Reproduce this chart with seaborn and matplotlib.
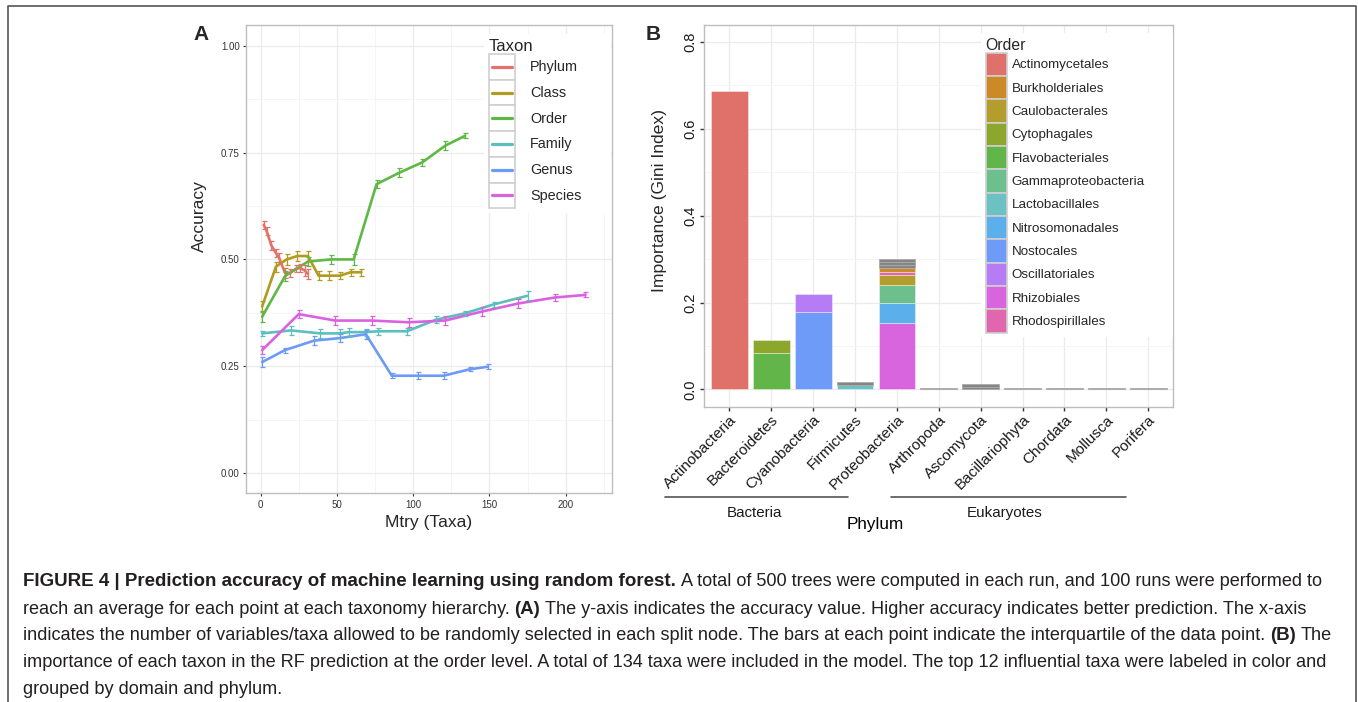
import numpy as np
import pandas as pd
import seaborn as sns
import matplotlib
matplotlib.use("Agg")
import matplotlib.pyplot as plt
import matplotlib.transforms as mtransforms
from matplotlib.lines import Line2D
from matplotlib.patches import Rectangle
from matplotlib.legend_handler import HandlerBase
from matplotlib.ticker import MultipleLocator

# ---- panel A data: accuracy vs mtry per taxonomic level
taxa = ["Phylum", "Class", "Order", "Family", "Genus", "Species"]
taxa_colors = ["#E2736B", "#B19B1E", "#5DB844", "#5CBFBE", "#6D9AF6", "#D962E0"]

phylum_mtry = [2, 4, 7, 10, 12, 16, 19, 23, 26, 29, 31]
phylum_acc = [0.581, 0.566, 0.533, 0.515, 0.505, 0.468, 0.468, 0.478, 0.480, 0.474, 0.466]
phylum_err = [0.010, 0.010, 0.010, 0.010, 0.010, 0.012, 0.010, 0.008, 0.010, 0.012, 0.012]

class_mtry = [1, 10, 17, 24, 31, 38, 45, 52, 59, 66]
class_acc = [0.390, 0.483, 0.500, 0.508, 0.508, 0.462, 0.462, 0.462, 0.470, 0.470]
class_err = [0.012, 0.012, 0.012, 0.012, 0.012, 0.010, 0.010, 0.008, 0.008, 0.008]

order_mtry = [1, 16, 31, 46, 61, 76, 91, 106, 121, 134]
order_acc = [0.366, 0.461, 0.495, 0.500, 0.500, 0.676, 0.703, 0.727, 0.766, 0.789]
order_err = [0.013, 0.012, 0.010, 0.010, 0.012, 0.010, 0.010, 0.008, 0.010, 0.006]

family_mtry = [1, 20, 39, 52, 58, 69, 77, 96, 115, 134, 153, 175]
family_acc = [0.327, 0.334, 0.327, 0.327, 0.330, 0.330, 0.332, 0.332, 0.359, 0.374, 0.395, 0.415]
family_err = [0.006, 0.010, 0.010, 0.010, 0.010, 0.008, 0.008, 0.008, 0.008, 0.006, 0.006, 0.010]

genus_mtry = [1, 16, 35, 52, 69, 86, 103, 120, 137, 149]
genus_acc = [0.260, 0.288, 0.310, 0.316, 0.325, 0.228, 0.228, 0.228, 0.243, 0.249]
genus_err = [0.012, 0.006, 0.010, 0.010, 0.010, 0.006, 0.008, 0.008, 0.005, 0.006]

species_mtry = [1, 25, 49, 73, 97, 121, 145, 169, 193, 213]
species_acc = [0.288, 0.372, 0.357, 0.357, 0.353, 0.357, 0.378, 0.397, 0.411, 0.417]
species_err = [0.010, 0.010, 0.010, 0.010, 0.010, 0.010, 0.010, 0.010, 0.008, 0.006]

# ---- panel B data: importance stacked by order within phylum
phyla = ["Actinobacteria", "Bacteroidetes", "Cyanobacteria", "Firmicutes", "Proteobacteria",
         "Arthropoda", "Ascomycota", "Bacillariophyta", "Chordata", "Mollusca", "Porifera"]
orders = ["Actinomycetales", "Burkholderiales", "Caulobacterales", "Cytophagales",
          "Flavobacteriales", "Gammaproteobacteria", "Lactobacillales", "Nitrosomonadales",
          "Nostocales", "Oscillatoriales", "Rhizobiales", "Rhodospirillales"]
order_colors = ["#E0716A", "#CC8A26", "#B39D2D", "#8CA72B", "#62B548", "#6DC08E",
                "#6CC1C3", "#5BAFEA", "#6F9BF8", "#B57CF5", "#D865DE", "#E067AD"]
other_color = "#858585"

seg_phylum = ["Actinobacteria", "Bacteroidetes", "Bacteroidetes", "Cyanobacteria", "Cyanobacteria",
              "Firmicutes", "Firmicutes",
              "Proteobacteria", "Proteobacteria", "Proteobacteria", "Proteobacteria", "Proteobacteria",
              "Proteobacteria", "Proteobacteria", "Proteobacteria", "Proteobacteria",
              "Arthropoda", "Ascomycota", "Ascomycota", "Bacillariophyta", "Chordata", "Mollusca", "Porifera"]
seg_order = ["Actinomycetales", "Flavobacteriales", "Cytophagales", "Nostocales", "Oscillatoriales",
             "Lactobacillales", "Other",
             "Rhizobiales", "Nitrosomonadales", "Gammaproteobacteria", "Caulobacterales", "Rhodospirillales",
             "Burkholderiales", "Other", "Other", "Other",
             "Other", "Other", "Other", "Other", "Other", "Other", "Other"]
seg_value = [0.687, 0.083, 0.031, 0.178, 0.041,
             0.010, 0.008,
             0.152, 0.046, 0.042, 0.023, 0.008,
             0.008, 0.007, 0.007, 0.007,
             0.002, 0.006, 0.006, 0.002, 0.002, 0.004, 0.003]

caption_lines = [
    [("FIGURE 4 | Prediction accuracy of machine learning using random forest.", True),
     ("A total of 500 trees were computed in each run, and 100 runs were performed to", False)],
    [("reach an average for each point at each taxonomy hierarchy.", False), ("(A)", True),
     ("The y-axis indicates the accuracy value. Higher accuracy indicates better prediction. The x-axis", False)],
    [("indicates the number of variables/taxa allowed to be randomly selected in each split node. "
      "The bars at each point indicate the interquartile of the data point.", False), ("(B)", True), ("The", False)],
    [("importance of each taxon in the RF prediction at the order level. A total of 134 taxa were included "
      "in the model. The top 12 influential taxa were labeled in color and", False)],
    [("grouped by domain and phylum.", False)],
]

sns.set_theme(style="whitegrid")
plt.rcParams["font.family"] = ["Liberation Sans", "DejaVu Sans"]

W, H = 1358, 702
fig = plt.figure(figsize=(W / 100, H / 100), dpi=100)


def box(l, t, r, b):
    return [l / W, 1 - b / H, (r - l) / W, (b - t) / H]


def style_panel(ax):
    ax.set_facecolor("white")
    for s in ax.spines.values():
        s.set_visible(True)
        s.set_color("#BDBDBD")
        s.set_linewidth(1.0)
    ax.grid(which="major", color="#EBEBEB", lw=0.9)
    ax.grid(which="minor", color="#F4F4F4", lw=0.6)
    ax.set_axisbelow(True)


class KeyLine(HandlerBase):
    def create_artists(self, legend, orig, xd, yd, w, h, fs, trans):
        rect = Rectangle((-xd, -yd), w, h, fc="white", ec="#CFCFCF", lw=1.2, transform=trans)
        ln = Line2D([-xd + 0.1 * w, -xd + 0.9 * w], [-yd + h / 2] * 2,
                    color=orig.get_color(), lw=2.3, transform=trans)
        return [rect, ln]


class KeyFill(HandlerBase):
    def create_artists(self, legend, orig, xd, yd, w, h, fs, trans):
        rect = Rectangle((-xd, -yd), w, h, fc=orig.get_facecolor(), ec="#CFCFCF", lw=1.2, transform=trans)
        return [rect]


# ---------------- panel A
axA = fig.add_axes(box(246, 24.7, 611.7, 493.3))
style_panel(axA)

rows = []
for t, m, a, e in zip(taxa,
                      [phylum_mtry, class_mtry, order_mtry, family_mtry, genus_mtry, species_mtry],
                      [phylum_acc, class_acc, order_acc, family_acc, genus_acc, species_acc],
                      [phylum_err, class_err, order_err, family_err, genus_err, species_err]):
    rows.append(pd.DataFrame({"taxon": t, "mtry": m, "acc": a, "err": e}))
dfA = pd.concat(rows, ignore_index=True)
pal = dict(zip(taxa, taxa_colors))

sns.lineplot(data=dfA, x="mtry", y="acc", hue="taxon", hue_order=taxa, palette=pal,
             estimator=None, sort=False, lw=1.9, legend=False, ax=axA)
for t in taxa:
    d = dfA[dfA["taxon"] == t]
    axA.errorbar(d["mtry"], d["acc"], yerr=d["err"], fmt="none", ecolor=pal[t],
                 elinewidth=0.9, capsize=1.8, capthick=0.9)

axA.set_xlim(-9.6, 230.2)
axA.set_ylim(-0.047, 1.049)
axA.set_xticks([0, 50, 100, 150, 200])
axA.set_yticks([0, 0.25, 0.5, 0.75, 1.0])
axA.set_yticklabels(["0.00", "0.25", "0.50", "0.75", "1.00"])
axA.xaxis.set_minor_locator(MultipleLocator(25))
axA.yaxis.set_minor_locator(MultipleLocator(0.125))
axA.tick_params(which="major", length=2.5, width=0.8, color="#333333", labelsize=7,
                labelcolor="#333333", pad=2, bottom=True, left=True)
axA.tick_params(which="minor", length=0)
axA.set_xlabel("Mtry (Taxa)", fontsize=12.5)
axA.set_ylabel("Accuracy", fontsize=12.5)
axA.xaxis.set_label_coords(0.5, -0.063)
axA.xaxis.label.set_va("center")
axA.yaxis.set_label_coords(-0.126, 0.592)
axA.yaxis.label.set_va("center")

hA = [Line2D([], [], color=c) for c in taxa_colors]
legA = axA.legend(hA, taxa, handler_map={Line2D: KeyLine()}, title="Taxon", alignment="left",
                  loc="upper left", bbox_to_anchor=box(484, 34, 611, 34), bbox_transform=fig.transFigure,
                  mode="expand", fontsize=10.4, title_fontsize=12, handlelength=1.78, handleheight=2.36,
                  labelspacing=0, handletextpad=1.06, borderpad=0.35, borderaxespad=0,
                  frameon=True, fancybox=False, framealpha=1, facecolor="white", edgecolor="none")

# ---------------- panel B
axB = fig.add_axes(box(704.3, 24.7, 1173.3, 406.7))
style_panel(axB)

dfB = pd.DataFrame({"phylum": seg_phylum, "order": seg_order, "value": seg_value})
dfB["bottom"] = dfB.groupby("phylum")["value"].cumsum() - dfB["value"]
col_map = dict(zip(orders, order_colors))
for _, r in dfB.iterrows():
    is_other = r["order"] == "Other"
    axB.bar(r["phylum"], r["value"], bottom=r["bottom"], width=0.88,
            color=other_color if is_other else col_map[r["order"]],
            edgecolor="#ABABAB" if is_other else (1, 1, 1, 0.45), lw=0.6, zorder=3)

axB.set_xlim(-0.6, 10.6)
axB.set_ylim(-0.04, 0.84)
axB.set_yticks([0, 0.2, 0.4, 0.6, 0.8])
axB.set_yticklabels(["0.0", "0.2", "0.4", "0.6", "0.8"])
axB.yaxis.set_minor_locator(MultipleLocator(0.1))
axB.tick_params(which="major", length=3.2, width=1.0, color="#333333", labelcolor="#1A1A1A",
                pad=2, bottom=True, left=True)
axB.tick_params(which="minor", length=0)
axB.tick_params(axis="y", labelsize=10.5, labelrotation=90)
axB.tick_params(axis="x", labelsize=11, pad=1)
for lab in axB.get_yticklabels():
    lab.set_va("center")
for lab in axB.get_xticklabels():
    lab.set_rotation(45)
    lab.set_ha("right")
    lab.set_va("top")
    lab.set_rotation_mode("anchor")
axB.grid(axis="x", which="minor", visible=False)
axB.set_xlabel("")
axB.set_ylabel("Importance (Gini Index)", fontsize=12.6)
axB.yaxis.set_label_coords(-0.0945, 0.541)
axB.yaxis.label.set_va("center")

hB = [Rectangle((0, 0), 1, 1, fc=c) for c in order_colors]
legB = axB.legend(hB, orders, handler_map={Rectangle: KeyFill()}, title="Order", alignment="left",
                  loc="upper left", bbox_to_anchor=box(981, 33, 1173, 33), bbox_transform=fig.transFigure,
                  mode="expand", fontsize=9.6, title_fontsize=11.3, handlelength=1.62, handleheight=2.315,
                  labelspacing=0, handletextpad=0.33, borderpad=0.35, borderaxespad=0,
                  frameon=True, fancybox=False, framealpha=1, facecolor="white", edgecolor="none")

# domain brackets under the phylum labels
trB = mtransforms.blended_transform_factory(axB.transData, axB.transAxes)
for lab, x0, x1, xc in [("Bacteria", -1.53, 2.84, 0.59), ("Eukaryotes", 3.85, 9.48, 6.56)]:
    axB.plot([x0, x1], [-0.2356, -0.2356], color="#555555", lw=1.2, transform=trB, clip_on=False)
    axB.text(xc, -0.2775, lab, transform=trB, ha="center", va="center", fontsize=10.9, color="#1A1A1A")
axB.text(3.48, -0.309, "Phylum", transform=trB, ha="center", va="center", fontsize=12.3, color="black")

# panel letters
fig.text(201 / W, 1 - 35 / H, "A", fontsize=15, fontweight="bold", ha="center", va="center")
fig.text(653 / W, 1 - 35 / H, "B", fontsize=15, fontweight="bold", ha="center", va="center")

# frame around the figure
fig.add_artist(Line2D([7.7 / W, 7.7 / W, 1355.7 / W, 1355.7 / W],
                      [0, 1 - 6 / H, 1 - 6 / H, 0], color="#555555", lw=1.2,
                      transform=fig.transFigure))

# caption with mixed bold runs; sizes fitted so lines end where the reference's do
fig.canvas.draw()
renderer = fig.canvas.get_renderer()
cap_color = "#231F20"
px = mtransforms.IdentityTransform()
x_left, x_right = 22.7, 1322


def measure(s, bold, size):
    t = fig.text(0, 0, s, fontsize=size, fontweight="bold" if bold else "normal", transform=px)
    w = t.get_window_extent(renderer).width
    t.remove()
    return w


reg_size = 10.0 * (1330 - x_left) / measure(caption_lines[3][0][0], False, 10.0)
space_w = measure("a a", False, reg_size) - measure("aa", False, reg_size)
rest_w = measure(caption_lines[0][1][0], False, reg_size)
bold_size = 10.0 * (x_right - x_left - rest_w - space_w) / measure(caption_lines[0][0][0], True, 10.0)
bold_size = min(bold_size, reg_size * 1.04)

baselines = [586, 613.5, 640.5, 667, 694]
for parts, yb in zip(caption_lines, baselines):
    x = x_left
    for s, bold in parts:
        t = fig.text(x, H - yb, s, fontsize=bold_size if bold else reg_size,
                     fontweight="bold" if bold else "normal",
                     color=cap_color, ha="left", va="baseline", transform=px)
        x += t.get_window_extent(renderer).width + space_w

fig.savefig("out.png", dpi=100)
